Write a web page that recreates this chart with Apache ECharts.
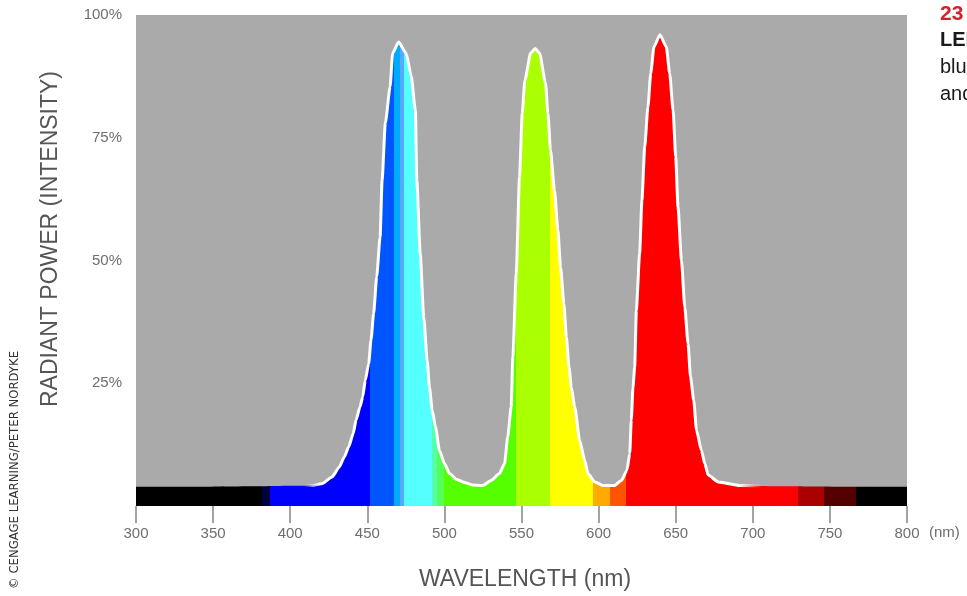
<!DOCTYPE html>
<html>
<head>
<meta charset="utf-8">
<script src="https://cdn.jsdelivr.net/npm/echarts@6/dist/echarts.min.js"></script>
<style>
html,body{margin:0;padding:0;background:#fff;}
#c{width:967px;height:596px;}
</style>
</head>
<body>
<div id="c"></div>
<script>
// Wavelength (nm) of traced points on the spectral power curve
const wavelengths = [300, 340, 380, 400, 415, 421, 427.1, 431.8, 435.1, 437.9, 440.9, 442.7, 445.3, 447.0, 448.7, 450.9, 452.4, 454.1, 456.1, 458.3, 459.6, 461.7, 464.8, 466.4, 470.3, 475.2, 478.4, 481.2, 482.1, 484.3, 486.6, 488.8, 490.3, 492.1, 494.2, 496.8, 500.1, 503.3, 508, 512.0, 518, 524.9, 530.3, 535.7, 539.0, 541.1, 543.3, 544.4, 546.6, 548.7, 550.5, 552.2, 555.9, 558.9, 561.7, 565.6, 567.1, 568.8, 571.4, 573.6, 575.3, 577.5, 579.1, 580.8, 582.3, 584.5, 587.7, 591.0, 593.1, 597.5, 602.8, 606, 610.4, 614.8, 618.4, 620.2, 621.2, 622.3, 623.4, 624.5, 626.6, 628.1, 629.9, 632.0, 633.8, 635.9, 639.8, 643.9, 646.1, 648.3, 650.0, 651.5, 653.7, 655.9, 658.0, 659.6, 661.7, 663.5, 666.7, 668.9, 671.1, 677.6, 691.6, 720, 760, 800];
// Relative radiant power (%) at those wavelengths
const intensity = [3.9, 3.9, 4.0, 4.1, 4.2, 4.6, 5.9, 7.9, 10.0, 12.0, 14.8, 17.5, 20.2, 22.2, 25.6, 29.0, 33.8, 39.2, 46.7, 54.8, 66.4, 78.0, 85.4, 92.2, 94.5, 92.2, 87.7, 80.6, 66.4, 51.5, 38.5, 29.7, 24.2, 19.5, 16.1, 11.3, 8.6, 6.6, 5.4, 4.9, 4.3, 4.2, 5.2, 6.6, 8.6, 14.1, 20.2, 30.4, 47.3, 67.0, 80.0, 86.7, 92.2, 93.2, 92.2, 86.1, 80.0, 72.5, 64.3, 56.2, 48.7, 41.2, 34.4, 28.3, 24.2, 20.2, 13.4, 9.3, 6.6, 4.9, 4.2, 4.2, 4.2, 5.2, 7.3, 10.7, 17.5, 24.2, 28.3, 39.9, 51.4, 62.3, 73.1, 81.3, 88.1, 93.5, 96.0, 93.5, 88.1, 80.6, 71.1, 60.9, 50.1, 40.5, 33.1, 26.3, 21.5, 15.4, 11.3, 8.6, 6.3, 4.9, 4.2, 4.0, 3.9, 3.9];
// Spectrum colour bands (start wavelength, nm) and their colours
const bandStarts = [300, 382, 387, 451.8, 467, 471, 474, 492, 495, 500, 546.6, 568.2, 596.3, 607.2, 618, 729, 746, 767];
const bandColors = ['#000000', '#000040', '#0000ff', '#0055ff', '#00aaff', '#55aaff', '#55ffff', '#55ffaa', '#55ff55', '#55ff00', '#aaff00', '#ffff00', '#ffaa00', '#ff5500', '#ff0000', '#aa0000', '#550000', '#000000'];
// Axis settings
const xMin = 300, xMax = 800, xStep = 50;
const yMin = 0, yMax = 100, yStep = 25;
const yTickLabels = ['', '25%', '50%', '75%', '100%'];
const xAxisTitle = 'WAVELENGTH (nm)';
const yAxisTitle = 'RADIANT POWER (INTENSITY)';
const credit = '\u00A9 CENGAGE LEARNING/PETER NORDYKE';

const seriesData = wavelengths.map((w, i) => [w, intensity[i]]);
const frac = w => (w - xMin) / (xMax - xMin);
const stops = [];
bandStarts.forEach((s, i) => {
  const e = i + 1 < bandStarts.length ? bandStarts[i + 1] : xMax;
  stops.push({offset: frac(s), color: bandColors[i]});
  stops.push({offset: frac(e), color: bandColors[i]});
});

const chart = echarts.init(document.getElementById('c'), null, {renderer: 'canvas'});
const font = "'Liberation Sans', Arial, sans-serif";
const narrow = "'Liberation Sans Narrow', 'DejaVu Sans Condensed', 'Liberation Sans', sans-serif";
chart.setOption({
  animation: false,
  backgroundColor: '#ffffff',
  grid: {left: 136, right: 60, top: 15, bottom: 90, show: true, backgroundColor: '#aaaaaa', borderWidth: 0},
  xAxis: {
    type: 'value', min: xMin, max: xMax, interval: xStep,
    axisLine: {show: false},
    axisTick: {show: true, length: 17, lineStyle: {color: '#a3a3a3', width: 2}},
    axisLabel: {color: '#6e6e6e', fontSize: 15, fontFamily: font, margin: 20},
    splitLine: {show: false}
  },
  yAxis: {
    type: 'value', min: yMin, max: yMax, interval: yStep,
    axisLine: {show: false}, axisTick: {show: false}, splitLine: {show: false},
    axisLabel: {color: '#6e6e6e', fontSize: 15, fontFamily: font, margin: 14,
      formatter: v => yTickLabels[Math.round((v - yMin) / yStep)] || ''}
  },
  series: [{
    type: 'line',
    data: seriesData,
    showSymbol: false,
    smooth: 0.2,
    smoothMonotone: 'x',
    lineStyle: {width: 3, color: {type: 'linear', x: 0, y: 0, x2: 1, y2: 0, colorStops: [
      {offset: 0, color: 'rgba(255,255,255,0)'}, {offset: frac(410), color: 'rgba(255,255,255,0)'},
      {offset: frac(420), color: '#ffffff'}, {offset: frac(690), color: '#ffffff'},
      {offset: frac(705), color: 'rgba(255,255,255,0)'}, {offset: 1, color: 'rgba(255,255,255,0)'}
    ]}},
    areaStyle: {opacity: 1, origin: 'start', color: {type: 'linear', x: 0, y: 0, x2: 1, y2: 0, colorStops: stops}},
    z: 2
  }],
  graphic: [
    {type: 'text', x: 525, y: 580, style: {text: xAxisTitle, fontSize: 23, fontFamily: font, fill: '#555555', align: 'center', verticalAlign: 'middle'}},
    {type: 'text', x: 51, y: 239, rotation: Math.PI / 2, style: {text: yAxisTitle, fontSize: 23, fontFamily: font, fill: '#555555', align: 'center', verticalAlign: 'middle'}},
    {type: 'text', x: 15, y: 470, rotation: Math.PI / 2, style: {text: credit, fontSize: 13, fontFamily: narrow, fill: '#333333', align: 'center', verticalAlign: 'middle'}},
    {type: 'text', x: 929, y: 533, style: {text: '(nm)', fontSize: 15, fontFamily: font, fill: '#6e6e6e', align: 'left', verticalAlign: 'middle'}},
    {type: 'text', x: 940, y: 14, style: {text: '23', fontSize: 21, fontWeight: 'bold', fontFamily: font, fill: '#d2232a', align: 'left', verticalAlign: 'middle'}},
    {type: 'text', x: 940, y: 40, style: {text: 'LED SPECTRA', fontSize: 20, fontWeight: 'bold', fontFamily: font, fill: '#1a1a1a', align: 'left', verticalAlign: 'middle'}},
    {type: 'text', x: 940, y: 67, style: {text: 'blue, green', fontSize: 20, fontFamily: font, fill: '#1a1a1a', align: 'left', verticalAlign: 'middle'}},
    {type: 'text', x: 940, y: 94, style: {text: 'and red', fontSize: 20, fontFamily: font, fill: '#1a1a1a', align: 'left', verticalAlign: 'middle'}}
  ]
});
</script>
</body>
</html>
